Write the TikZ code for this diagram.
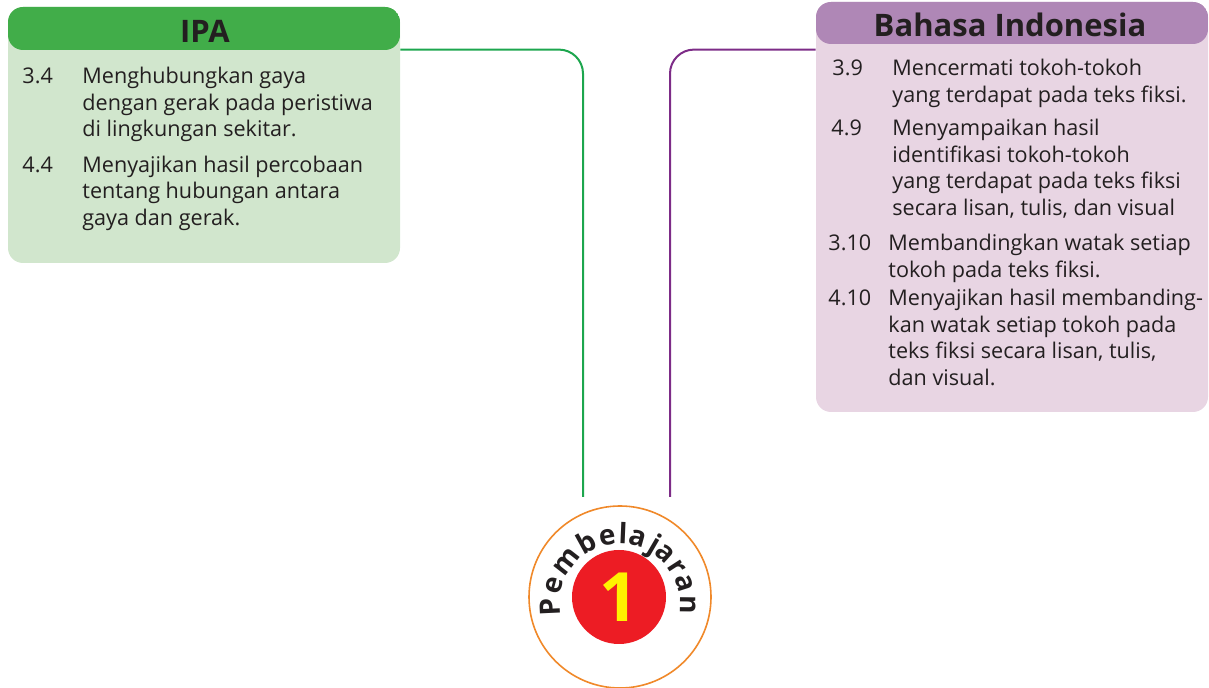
\documentclass[tikz,border=0pt]{standalone}
\usepackage{fontspec}
\setmainfont{Open Sans}
\usepackage{tikz}
\usetikzlibrary{positioning}
\definecolor{ipagreen}{HTML}{41AD49}
\definecolor{ipalight}{HTML}{D1E6CD}
\definecolor{ipaline}{HTML}{1DA64E}
\definecolor{bipurple}{HTML}{AF87B6}
\definecolor{bilight}{HTML}{E8D5E3}
\definecolor{biline}{HTML}{7D2C87}
\definecolor{ringorange}{HTML}{F0892A}
\definecolor{numred}{HTML}{ED1C24}
\definecolor{numyellow}{HTML}{FFF200}
\definecolor{inktext}{HTML}{231F20}

\tikzset{
  itemtext/.style={anchor=north west, inner sep=0pt, align=left, text=inktext,
    font=\fontsize{10.8}{13.3}\selectfont},
  headtext/.style={inner sep=0pt, text=inktext, font=\bfseries\fontsize{15.5}{16}\selectfont},
  subjectbox/.style={rounded corners=7.5pt, inner sep=0pt, minimum width=196pt},
  arcletter/.style={anchor=base, inner sep=0pt, text=inktext, font=\bfseries\fontsize{14}{14}\selectfont},
}

\begin{document}
\begin{tikzpicture}[x=0.5pt,y=-0.5pt]
        \useasboundingbox (0,0) rectangle (1209,688);
        % end points of the two connectors
        \coordinate (ipaend) at (583,497);
        \coordinate (biend) at (670,497);
        % IPA box
        \node[subjectbox, fill=ipalight, minimum height=128pt,
          path picture={\fill[ipagreen] (path picture bounding box.north west)
            rectangle ([yshift=-21.5pt]path picture bounding box.north east);}] (ipa) at (204,135) {};
        \node[headtext] (ipahead) at (205,31) {IPA};
        \node[itemtext] (ipanum1) at (22,64.4) {\strut 3.4};
        \node[itemtext] (ipatxt1) at (82,64.4) {\strut Menghubungkan gaya\\dengan gerak pada peristiwa\\di lingkungan sekitar.};
        \node[itemtext] (ipanum2) at (22,153) {\strut 4.4};
        \node[itemtext] (ipatxt2) at (82,153) {\strut Menyajikan hasil percobaan\\tentang hubungan antara\\gaya dan gerak.};
        % Bahasa Indonesia box
        \node[subjectbox, fill=bilight, minimum height=205pt,
          path picture={\fill[bipurple] (path picture bounding box.north west)
            rectangle ([yshift=-21pt]path picture bounding box.north east);}] (bi) at (1012,207) {};
        \node[headtext] (bihead) at (1010,25) {Bahasa Indonesia};
        \node[itemtext] (binum1) at (832,56.4) {\strut 3.9};
        \node[itemtext] (bitxt1) at (892,56.4) {\strut Mencermati tokoh-tokoh\\yang terdapat pada teks fiksi.};
        \node[itemtext] (binum2) at (831,116.4) {\strut 4.9};
        \node[itemtext] (bitxt2) at (892,116.4) {\strut Menyampaikan hasil\\identifikasi tokoh-tokoh\\yang terdapat pada teks fiksi\\secara lisan, tulis, dan visual};
        \node[itemtext] (binum3) at (828,231.4) {\strut 3.10};
        \node[itemtext] (bitxt3) at (888,231.4) {\strut Membandingkan watak setiap\\tokoh pada teks fiksi.};
        \node[itemtext] (binum4) at (828,286.4) {\strut 4.10};
        \node[itemtext] (bitxt4) at (888,286.4) {\strut Menyajikan hasil membanding-\\kan watak setiap tokoh pada\\teks fiksi secara lisan, tulis,\\dan visual.};
        % connectors
        \draw[ipaline, line width=1pt, rounded corners=12pt] ([yshift=-21.5pt]ipa.north east) -| (ipaend);
        \draw[biline, line width=1pt, rounded corners=12pt] ([yshift=-24pt]bi.north west) -| (biend);
        % Pembelajaran badge
        \node[circle, draw=ringorange, line width=0.8pt, fill=white, minimum size=91pt, inner sep=0pt] (ring) at (620,597) {};
        \node[circle, fill=numred, minimum size=47pt, inner sep=0pt, text=numyellow,
          font=\bfseries\fontsize{34}{34}\selectfont] (num) at (619,597) {1};
        \coordinate (arcctr) at (620,604);
        \foreach \ch/\ang [count=\k] in {P/182.6, e/164.5, m/142.0, b/118.8, e/100.7, l/87.6,
            a/74.4, j/59.7, a/47.9, r/32.8, a/17.7, n/-0.6} {
          \node[arcletter, rotate=\ang-90] (arc\k) at ([shift={(\ang:30pt)}]arcctr) {\ch};
        }
      \end{tikzpicture}
\end{document}
